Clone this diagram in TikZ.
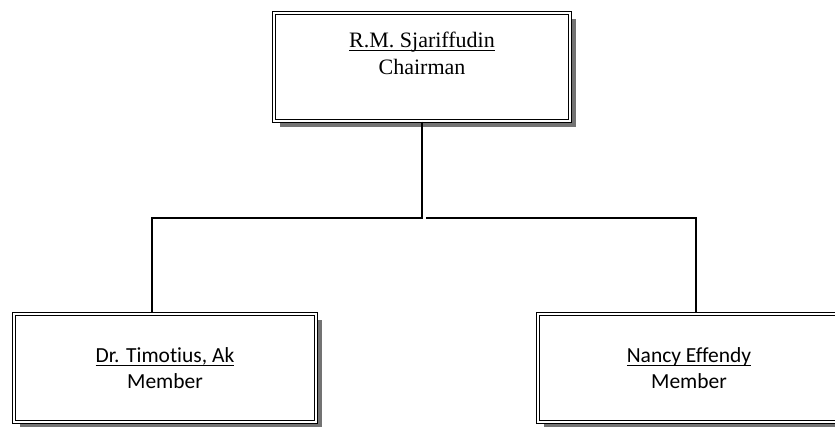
\documentclass[tikz,border=0pt]{standalone}
\usepackage{fontspec}
\setmainfont{Liberation Serif}
\newfontfamily\calibri[Ligatures=NoCommon]{Carlito}
\usetikzlibrary{shadows}
\newcommand\ulname[1]{\setbox0\hbox{#1}\rlap{\rule[-4pt]{\wd0}{1.3pt}}\box0}

\begin{document}
\begin{tikzpicture}[x=1pt, y=1pt,
every node/.style={align=center},
box/.style={draw=black, line width=1.1pt, double=white, double distance=1.5pt,
  fill=white, inner sep=0pt,
  drop shadow={shadow xshift=6pt, shadow yshift=-6pt, fill=black!55, opacity=1}},
chairbox/.style={box, minimum width=296pt, minimum height=108pt,
  font=\fontsize{22}{27}\selectfont},
memberbox/.style={box, minimum width=302pt, minimum height=108pt,
  font=\calibri\fontsize{21.5}{26}\selectfont},
conn/.style={line width=1.3pt}]
\useasboundingbox (0,0) rectangle (835,426);
%================================================================
%	Boxes
\node[chairbox] (chair) at (422,359) {\ulname{R.M. Sjariffudin}\\Chairman\rule[-28pt]{0pt}{28pt}};

\node[memberbox] (timo) at (165,58) {\ulname{Dr. Timotius, Ak}\\Member};
\node[memberbox] (nancy) at (689,58) {\ulname{Nancy Effendy}\\Member};

%================================================================
%	Lines
\coordinate (hub) at (422,208);
\coordinate (hubr) at (426,208);
\coordinate (lknee) at (152,208);
\coordinate (rknee) at (696,208);

\draw[conn] (chair.south) -- (hub) -- (lknee) -- (lknee |- timo.north);
\draw[conn] (hubr) -- (rknee) -- (rknee |- nancy.north);
%================================================================
\end{tikzpicture}
\end{document}
